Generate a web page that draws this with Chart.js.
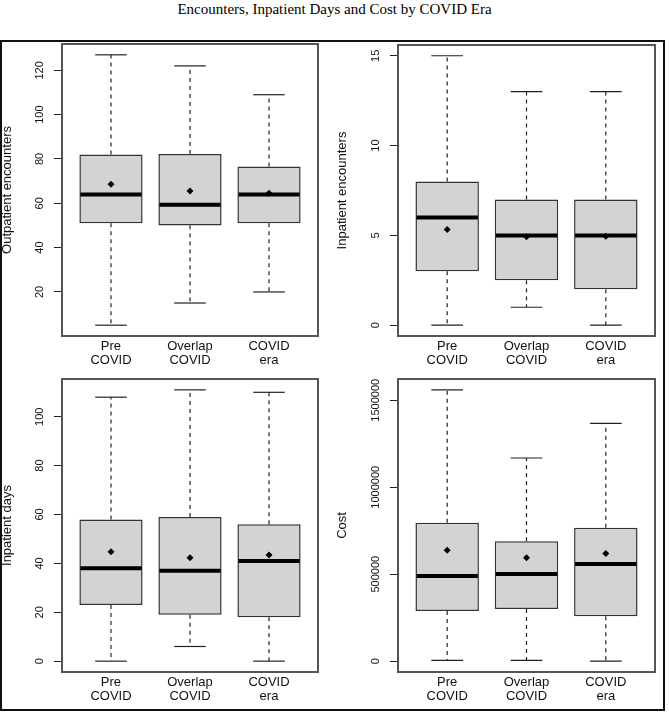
<!DOCTYPE html>
<html lang="en">
<head>
<meta charset="UTF-8">
<title>Encounters, Inpatient Days and Cost by COVID Era</title>
<style>
  body { margin: 0; background: #fff; width: 669px; height: 714px; position: relative; overflow: hidden; }
  #title {
    position: absolute; left: 0; top: 2px; width: 669px; text-align: center;
    font-family: "Liberation Serif", "Times New Roman", serif; font-size: 15px; line-height: 15px; color: #000;
  }
  #frame { position: absolute; left: 0; top: 40px; width: 661px; height: 667px; border: 2px solid #111; }
  canvas { position: absolute; }
</style>
<script src="https://cdn.jsdelivr.net/npm/chart.js"></script>
</head>
<body>
<div id="title">Encounters, Inpatient Days and Cost by COVID Era</div>
<div id="frame"></div>
<canvas id="outpatientChart" width="335" height="345" style="left:0;top:30px"></canvas>
<canvas id="inpatientChart" width="334" height="345" style="left:335px;top:30px"></canvas>
<canvas id="daysChart" width="335" height="345" style="left:0;top:365px"></canvas>
<canvas id="costChart" width="334" height="345" style="left:335px;top:365px"></canvas>

<script>
const eras = [['Pre', 'COVID'], ['Overlap', 'COVID'], ['COVID', 'era']];

// per era: [min, Q1, median, Q3, max]
const outpatientStats = [[5, 51, 64, 82, 127], [15, 50, 59.3, 82.3, 122], [20, 51, 64, 76.6, 109]];
const outpatientMeans = [68.6, 65.6, 64.5];
const outpatientTicks = [20, 40, 60, 80, 100, 120];

const inpatientStats = [[0, 3, 6, 8, 15], [1, 2.5, 5, 7, 13], [0, 2, 5, 7, 13]];
const inpatientMeans = [5.33, 4.93, 4.95];
const inpatientTicks = [0, 5, 10, 15];

const daysStats = [[0, 23, 38, 58, 108], [6, 19, 37, 59, 111], [0, 18, 41, 56, 110]];
const daysMeans = [44.8, 42.3, 43.4];
const daysTicks = [0, 20, 40, 60, 80, 100];

const costStats = [[5000, 288000, 490000, 796000, 1560000], [5000, 300000, 501000, 690000, 1168000], [0, 258000, 559000, 767000, 1367000]];
const costMeans = [638000, 594000, 619000];
const costTicks = [0, 500000, 1000000, 1500000];

const FONT = '"Liberation Sans", Arial, sans-serif';
const measure = document.createElement('canvas').getContext('2d');
measure.font = '11px ' + FONT;

// whiskers, caps, medians and the plot frame, all placed through the chart scales
const boxplotParts = {
    id: 'boxplotParts',
    afterDatasetDraw(chart, args, opts) {
        if (args.index !== 0) return;
        const ctx = chart.ctx;
        const x = chart.scales.x, y = chart.scales.y;
        const line = (x1, y1, x2, y2) => { ctx.beginPath(); ctx.moveTo(x1, y1); ctx.lineTo(x2, y2); ctx.stroke(); };
        ctx.save();
        opts.stats.forEach((s, i) => {
            const c = x.getPixelForValue(i + 1);
            const capL = x.getPixelForValue(i + 0.8), capR = x.getPixelForValue(i + 1.2);
            const boxL = x.getPixelForValue(i + 0.6), boxR = x.getPixelForValue(i + 1.4);
            ctx.strokeStyle = '#222';
            ctx.lineWidth = 1.2;
            ctx.setLineDash([4, 4]);
            line(c, y.getPixelForValue(s[3]), c, y.getPixelForValue(s[4]));
            line(c, y.getPixelForValue(s[1]), c, y.getPixelForValue(s[0]));
            ctx.setLineDash([]);
            line(capL, y.getPixelForValue(s[4]), capR, y.getPixelForValue(s[4]));
            line(capL, y.getPixelForValue(s[0]), capR, y.getPixelForValue(s[0]));
            ctx.strokeStyle = '#000';
            ctx.lineWidth = 4;
            line(boxL + 1, y.getPixelForValue(s[2]), boxR - 1, y.getPixelForValue(s[2]));
        });
        ctx.restore();
    },
    afterDraw(chart) {
        const {ctx, chartArea: a} = chart;
        ctx.save();
        ctx.strokeStyle = '#555';
        ctx.lineWidth = 2;
        ctx.strokeRect(a.left, a.top, a.right - a.left, a.bottom - a.top);
        ctx.restore();
    }
};

function makeChart(id, stats, means, ticks, title, layout) {
    const all = stats.flat();
    const lo = Math.min(...all), hi = Math.max(...all);
    const ext = 0.04 * (hi - lo);
    const widest = Math.max(...ticks.map(v => measure.measureText(String(v)).width));

    new Chart(document.getElementById(id), {
        type: 'bar',
        data: {
            datasets: [{
                type: 'bar',
                data: stats.map((s, i) => ({ x: i + 1, y: [s[1], s[3]] })),
                backgroundColor: '#d3d3d3',
                borderColor: '#333',
                borderWidth: 1.5,
                borderSkipped: false,
                categoryPercentage: 1,
                barPercentage: 0.8,
                order: 2
            }, {
                type: 'line',
                data: means.map((m, i) => ({ x: i + 1, y: m })),
                showLine: false,
                pointStyle: 'rectRot',
                pointRadius: 3.5,
                pointBackgroundColor: '#000',
                pointBorderWidth: 0,
                order: 1
            }]
        },
        options: {
            responsive: false,
            animation: false,
            layout: { padding: layout.padding },
            plugins: {
                legend: { display: false },
                tooltip: { enabled: false },
                boxplotParts: { stats: stats }
            },
            scales: {
                x: {
                    type: 'linear',
                    min: 0.38,
                    max: 3.62,
                    bounds: 'data',
                    offset: false,
                    grid: { display: false, drawTicks: false, offset: false },
                    border: { display: false },
                    afterBuildTicks: s => { s.ticks = eras.map((e, i) => ({ value: i + 1 })); },
                    afterFit: s => { s.height = layout.xHeight; },
                    ticks: {
                        callback: v => eras[v - 1],
                        autoSkip: false,
                        maxRotation: 0,
                        minRotation: 0,
                        padding: 3,
                        color: '#111',
                        font: { family: FONT, size: 13, lineHeight: 1.08 }
                    }
                },
                y: {
                    type: 'linear',
                    min: lo - ext,
                    max: hi + ext,
                    bounds: 'data',
                    beginAtZero: false,
                    grid: { display: true, drawOnChartArea: false, drawTicks: true, tickLength: 8, color: '#222' },
                    border: { display: false },
                    afterBuildTicks: s => { s.ticks = ticks.map(v => ({ value: v })); },
                    afterFit: s => { s.width = layout.yWidth; },
                    ticks: {
                        callback: v => String(v),
                        minRotation: 90,
                        maxRotation: 90,
                        crossAlign: 'center',
                        padding: 14.5 - widest / 2,
                        autoSkip: false,
                        color: '#111',
                        font: { family: FONT, size: 11 }
                    },
                    title: {
                        display: true,
                        text: title,
                        color: '#111',
                        padding: { top: 0, bottom: 0 },
                        font: { family: FONT, size: 13 }
                    }
                }
            }
        },
        plugins: [boxplotParts]
    });
}

makeChart('outpatientChart', outpatientStats, outpatientMeans, outpatientTicks, 'Outpatient encounters',
    { padding: { left: 0, top: 14, right: 17, bottom: 0 }, yWidth: 62, xHeight: 39 });
makeChart('inpatientChart', inpatientStats, inpatientMeans, inpatientTicks, 'Inpatient encounters',
    { padding: { left: 0, top: 14, right: 14, bottom: 0 }, yWidth: 63, xHeight: 39 });
makeChart('daysChart', daysStats, daysMeans, daysTicks, 'Inpatient days',
    { padding: { left: 0, top: 14, right: 17, bottom: 0 }, yWidth: 62, xHeight: 38 });
makeChart('costChart', costStats, costMeans, costTicks, 'Cost',
    { padding: { left: 0, top: 14, right: 14, bottom: 0 }, yWidth: 63, xHeight: 38 });
</script>
</body>
</html>
